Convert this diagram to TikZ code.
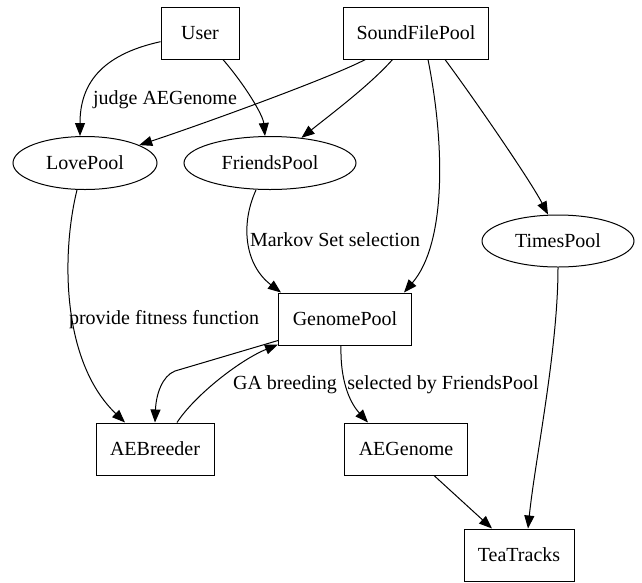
\documentclass[tikz,border=0pt]{standalone}
\usepackage{fontspec}
\setmainfont{Liberation Serif}
\usetikzlibrary{arrows.meta,shapes.geometric}
\tikzset{
  box/.style={draw, line width=1pt, rectangle, inner sep=0pt, minimum height=52pt},
  oval/.style={draw, line width=1pt, ellipse, inner sep=0pt, minimum height=53pt},
  arr/.style={line width=1pt, -{Triangle[length=13pt,width=10pt]}},
  lbl/.style={inner sep=0pt}
}
\begin{document}
\begin{tikzpicture}[x=1pt,y=-1pt,font=\fontsize{20}{24}\selectfont]
\useasboundingbox (0,0) rectangle (642,582);
\node[box, minimum width=78pt] (User) at (200,33) {User};
\node[box, minimum width=145pt] (SFP) at (416,33) {SoundFilePool};
\node[oval, minimum width=144pt] (LovePool) at (85,163) {LovePool};
\node[oval, minimum width=172pt] (FriendsPool) at (270,163) {FriendsPool};
\node[oval, minimum width=152pt, minimum height=52pt] (TimesPool) at (558,241) {TimesPool};
\node[box, minimum width=133pt] (GenomePool) at (345,319) {GenomePool};
\node[box, minimum width=118pt] (AEBreeder) at (155,449) {AEBreeder};
\node[box, minimum width=123pt] (AEGenome) at (406,449) {AEGenome};
\node[box, minimum width=110pt] (TeaTracks) at (519,555) {TeaTracks};

\node[lbl] (l1) at (165,100) {judge AEGenome};
\node[lbl] (l2) at (335,240) {Markov Set selection};
\node[lbl] (l3) at (164,320) {provide fitness function};
\node[lbl] (l4) at (285,385) {GA breeding};
\node[lbl] (l5) at (443,385) {selected by FriendsPool};

\coordinate (kink) at (175,371);

\draw[arr] (User) .. controls (100,55) and (80,85) .. ([xshift=-5pt]LovePool.north);
\draw[arr] (User) .. controls (245,85) and (263,115) .. ([xshift=-5pt]FriendsPool.north);
\draw[arr] (SFP) .. controls (330,78) and (200,125) .. (LovePool);
\draw[arr] (SFP) .. controls (370,85) and (330,115) .. (FriendsPool);
\draw[arr] ([xshift=12pt]SFP.south) .. controls (446,150) and (445,245) .. ([xshift=-8pt]GenomePool.north east);
\draw[arr] ([xshift=29pt]SFP.south) .. controls (475,100) and (530,180) .. ([xshift=-10pt]TimesPool.north);
\draw[arr] (TimesPool.south) .. controls (558,350) and (535,460) .. ([xshift=9pt]TeaTracks.north);
\draw[arr] ([xshift=28pt]AEGenome.south) -- ([xshift=-27pt]TeaTracks.north);
\draw[arr] ([xshift=-8pt]LovePool.south) .. controls (62,250) and (60,360) .. ([xshift=-30pt]AEBreeder.north);
\draw[arr] ([xshift=-14pt]FriendsPool.south) .. controls (240,225) and (245,265) .. ([xshift=3pt]GenomePool.north west);
\draw[arr] ([yshift=5pt]GenomePool.south west) -- (kink) .. controls (162,376) and (156,395) .. (AEBreeder.north);
\draw[arr] ([xshift=22pt]AEBreeder.north) .. controls (195,395) and (240,360) .. ([yshift=1pt]GenomePool.south west);
\draw[arr] ([xshift=-4pt]GenomePool.south) .. controls (340,385) and (352,405) .. ([xshift=-38pt]AEGenome.north);
\end{tikzpicture}
\end{document}
